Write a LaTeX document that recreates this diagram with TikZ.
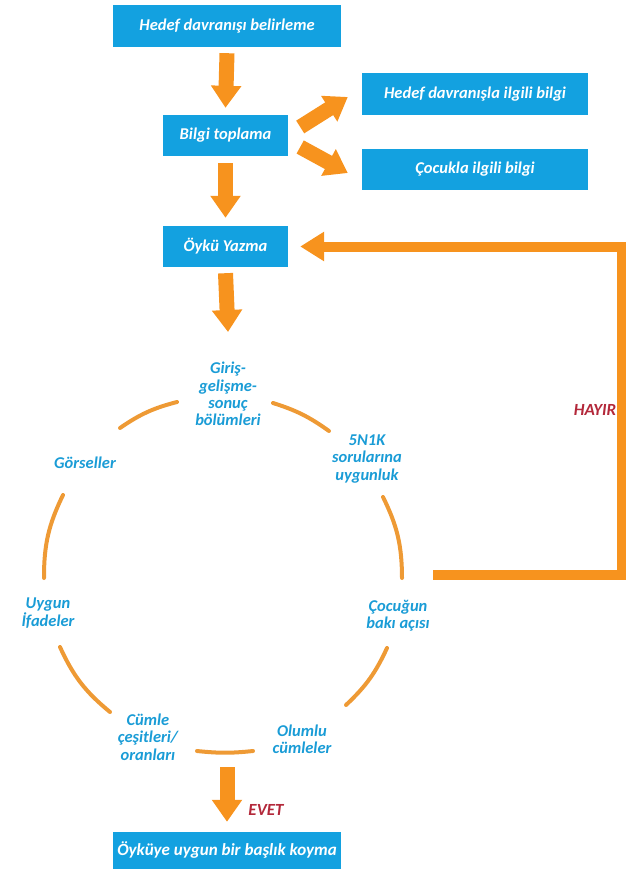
\documentclass[tikz,border=0pt]{standalone}
\usepackage{fontspec}
\setmainfont{Carlito}
\usetikzlibrary{arrows.meta}
\definecolor{boxblue}{HTML}{13A1E0}
\definecolor{lblblue}{HTML}{1A9CD6}
\definecolor{orng}{HTML}{F7931E}
\definecolor{arcorng}{HTML}{EE9A35}
\definecolor{darkred}{HTML}{B3283A}
\tikzset{
  bluebox/.style={fill=boxblue, text=white, inner sep=0pt, font=\fontsize{16.5}{18}\selectfont\bfseries\itshape},
  lbl/.style={text=lblblue, align=center, inner sep=0pt, font=\fontsize{16.5}{17.3}\selectfont\bfseries\itshape},
  decision/.style={text=darkred, inner sep=0pt, font=\fontsize{17}{19}\selectfont\bfseries\itshape},
  blockarrow/.style={draw=orng, line width=15pt, -{Triangle[width=29pt,length=22pt]}},
  fbline/.style={draw=orng, line width=10pt, -{Triangle[width=28pt,length=24pt]}},
  looparc/.style={draw=arcorng, line width=4pt, line cap=round},
}
\begin{document}
\begin{tikzpicture}[x=1pt,y=-1pt]
\useasboundingbox (0,0) rectangle (626,870);
% boxes
\node[bluebox, minimum width=228pt, minimum height=42pt] (b1) at (227,26) {Hedef davranışı belirleme};
\node[bluebox, minimum width=125pt, minimum height=41pt] (b2) at (225.5,135.5) {Bilgi toplama};
\node[bluebox, minimum width=125pt, minimum height=41pt] (b3) at (225.5,246.5) {Öykü Yazma};
\node[bluebox, minimum width=226pt, minimum height=42pt] (s1) at (475,94) {Hedef davranışla ilgili bilgi};
\node[bluebox, minimum width=226pt, minimum height=41pt] (s2) at (475,169.5) {Çocukla ilgili bilgi};
\node[bluebox, minimum width=228pt, minimum height=37pt, font=\fontsize{17}{19}\selectfont\bfseries\itshape] (b4) at (227,850.5) {Öyküye uygun bir başlık koyma};
% loop labels
\node[lbl] (giris) at (228,394) {Giriş-\\gelişme-\\sonuç\\bölümleri};
\node[lbl] (gorsel) at (85,463) {Görseller};
\node[lbl] (nk) at (367,459) {5N1K\\sorularına\\uygunluk};
\node[lbl] (uygun) at (48,613) {Uygun\\İfadeler};
\node[lbl] (cocuk) at (398,616) {Çocuğun\\bakı açısı};
\node[lbl] (cumle) at (148,737) {Cümle\\çeşitleri/\\oranları};
\node[lbl] (olumlu) at (302,739) {Olumlu\\cümleler};
% decisions
\node[decision] (hayir) at (595,410) {HAYIR};
\node[decision] (evet) at (266,810) {EVET};
% loop arcs
\draw[looparc] (120,428) to[bend left=10] (177,402);
\draw[looparc] (273,403) to[bend left=9] (329,431);
\draw[looparc] (63,495) to[bend right=13] (44,578);
\draw[looparc] (383,497) to[bend left=13] (402,578);
\draw[looparc] (60,647) to[bend right=13] (110,712);
\draw[looparc] (387,648) to[bend left=11] (346,705);
\draw[looparc] (197,751) to[bend right=6] (253,751);
% arrows
\draw[blockarrow] ([yshift=-6pt]b1.south) -- ([yshift=7pt]b2.north);
\draw[blockarrow] ([yshift=-7pt]b2.south) -- ([yshift=8pt]b3.north);
\draw[blockarrow] ([yshift=-6pt]b3.south) -- ([yshift=30pt]giris.north);
\draw[blockarrow] ([shift={(12,-8.5)}]b2.east) -- ([shift={(-14,3)}]s1.west);
\draw[blockarrow] ([shift={(12,11.5)}]b2.east) -- ([shift={(-14,3.5)}]s2.west);
\coordinate (fbstart) at (433,575);
\coordinate (fbtop) at (622,246.5);
\draw[fbline] (fbstart) -| (fbtop) -- ([xshift=12pt]b3.east);
\coordinate (loopbot) at (227,767);
\draw[blockarrow] (loopbot) -- ([yshift=10pt]b4.north);
\end{tikzpicture}
\end{document}
